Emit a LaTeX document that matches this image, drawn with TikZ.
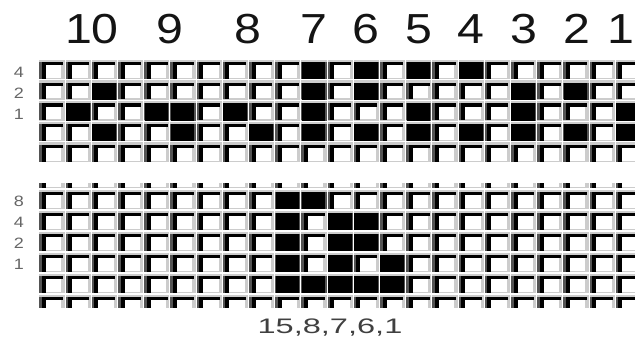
\documentclass[tikz,border=0pt]{standalone}
\usepackage{fontspec}
\setmainfont{Liberation Sans}
\definecolor{lg}{gray}{0.80}
\definecolor{dg}{gray}{0.33}
\newcommand\mygcell[2]{%
  \fill[lg] (#1,#2) rectangle (#1+25.2,#2+19.7);
  \fill[white] (#1+6.7,#2+5.8) rectangle (#1+22,#2+18.2);
  \fill[dg] (#1,#2+2.5) rectangle (#1+2.7,#2+19.2);
  \fill[black] (#1+2.7,#2+2.5) rectangle (#1+6.7,#2+19.2);
  \fill[black] (#1+2.7,#2+2.5) rectangle (#1+23.5,#2+5.8);
}
\newcommand\mygfull[2]{%
  \fill[black] (#1+0.5,#2+2.5) rectangle (#1+24,#2+19.7);
  \fill[dg] (#1+24,#2+2.5) rectangle (#1+25.2,#2+19.7);
}
\begin{document}
\begin{tikzpicture}[x=1pt,y=-1pt,
  toplbl/.style={anchor=base, font=\fontsize{42}{42}\selectfont, text=black!92, inner sep=0pt},
  rowlbl/.style={font=\fontsize{15}{15}\selectfont, text=black!60, inner sep=0pt},
  botlbl/.style={anchor=base, font=\fontsize{21}{21}\selectfont, text=black!75, inner sep=0pt}]
\fill[white] (0,0) rectangle (635,343);
\useasboundingbox (0,0) rectangle (635,343);

% top grid
\begin{scope}
\clip (0,59) rectangle (635,162);
\foreach \i in {0,...,22}{
  \foreach \j in {0,...,4}{
    \pgfmathsetmacro\xo{39.3+26.2*\i}
    \pgfmathsetmacro\yo{59.5+20.7*\j}
    \mygcell{\xo}{\yo}
  }}
\foreach \i/\j in {10/0,12/0,14/0,16/0,
                   2/1,10/1,12/1,18/1,20/1,
                   1/2,4/2,5/2,7/2,10/2,14/2,18/2,22/2,
                   2/3,5/3,8/3,10/3,12/3,14/3,16/3,18/3,20/3,22/3}{
    \pgfmathsetmacro\xo{39.3+26.2*\i}
    \pgfmathsetmacro\yo{59.5+20.7*\j}
    \mygfull{\xo}{\yo}
}
\end{scope}

% bottom grid
\begin{scope}
\clip (0,183) rectangle (635,307);
\foreach \i in {0,...,22}{
  \foreach \j in {-1,...,5}{
    \pgfmathsetmacro\xo{39.3+26.2*\i}
    \pgfmathsetmacro\yo{189.5+21*\j}
    \mygcell{\xo}{\yo}
  }}
\foreach \i/\j in {9/0,10/0,
                   9/1,11/1,12/1,
                   9/2,11/2,12/2,
                   9/3,11/3,13/3,
                   9/4,10/4,11/4,12/4,13/4}{
    \pgfmathsetmacro\xo{39.3+26.2*\i}
    \pgfmathsetmacro\yo{189.5+21*\j}
    \mygfull{\xo}{\yo}
}
\end{scope}

% top numbers
\node[toplbl] (n10) at (92,43) {\scalebox{1.15}[1]{10}};
\node[toplbl] (n9) at (170,43) {\scalebox{1.15}[1]{9}};
\node[toplbl] (n8) at (247.5,43) {\scalebox{1.15}[1]{8}};
\node[toplbl] (n7) at (314,43) {\scalebox{1.15}[1]{7}};
\node[toplbl] (n6) at (366.3,43) {\scalebox{1.15}[1]{6}};
\node[toplbl] (n5) at (418.7,43) {\scalebox{1.15}[1]{5}};
\node[toplbl] (n4) at (471.1,43) {\scalebox{1.15}[1]{4}};
\node[toplbl] (n3) at (523.5,43) {\scalebox{1.15}[1]{3}};
\node[toplbl] (n2) at (577,43) {\scalebox{1.15}[1]{2}};
\node[toplbl] (n1) at (620.5,43) {\scalebox{1.15}[1]{1}};

% row labels
\node[rowlbl] (t4) at (19,72) {\scalebox{1.2}[1]{4}};
\node[rowlbl] (t2) at (19,93) {\scalebox{1.2}[1]{2}};
\node[rowlbl] (t1) at (19,114) {\scalebox{1.2}[1]{1}};
\node[rowlbl] (b8) at (19,201) {\scalebox{1.2}[1]{8}};
\node[rowlbl] (b4) at (19,222) {\scalebox{1.2}[1]{4}};
\node[rowlbl] (b2) at (19,243.5) {\scalebox{1.2}[1]{2}};
\node[rowlbl] (b1) at (19,264.5) {\scalebox{1.2}[1]{1}};

% bottom text
\node[botlbl] (sum) at (330,333) {\scalebox{1.55}[1]{15,8,7,6,1}};
\end{tikzpicture}
\end{document}
